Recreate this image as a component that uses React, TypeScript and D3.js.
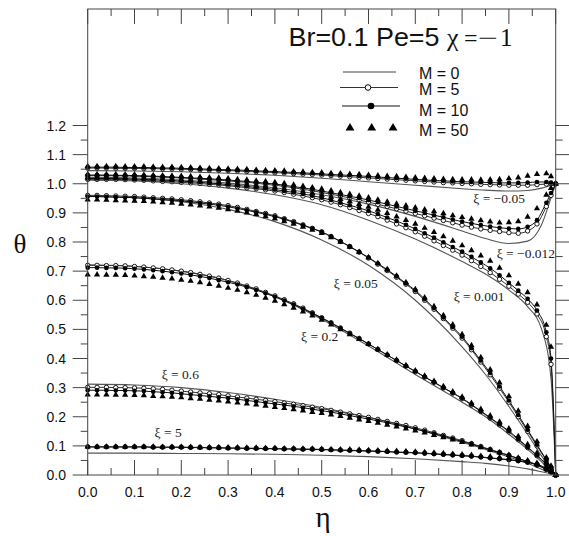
import React from 'react';
import * as d3 from 'd3';

const W = 569;
const H = 536;

// eta grid for marked series
const ETA = [0,0.02,0.04,0.06,0.08,0.1,0.12,0.14,0.16,0.18,0.2,0.22,0.24,0.26,0.28,0.3,0.32,0.34,0.36,0.38,0.4,0.42,0.44,0.46,0.48,0.5,0.52,0.54,0.56,0.58,0.6,0.62,0.64,0.66,0.68,0.7,0.72,0.74,0.76,0.78,0.8,0.82,0.84,0.86,0.88,0.9,0.92,0.94,0.96,0.98,0.99,1];
// eta grid for M = 0 (plain lines)
const ETA_LINE = [0,0.1,0.2,0.3,0.4,0.5,0.6,0.7,0.8,0.85,0.9,0.94,0.97,0.99,1];

// xi = -0.05
const XI_N005_M0 = [1.045,1.044,1.041,1.036,1.029,1.019,1.007,0.995,0.983,0.978,0.975,0.977,0.985,0.995,1.0];
const XI_N005_M5 = [1.054,1.054,1.054,1.053,1.053,1.053,1.052,1.052,1.051,1.051,1.05,1.049,1.048,1.047,1.046,1.045,1.044,1.042,1.041,1.04,1.038,1.037,1.035,1.033,1.032,1.03,1.028,1.026,1.024,1.022,1.02,1.018,1.016,1.014,1.012,1.01,1.008,1.006,1.004,1.003,1.001,1.0,0.998,0.997,0.996,0.995,0.995,0.995,0.997,0.999,1.0,1.0];
const XI_N005_M10 = [1.057,1.057,1.057,1.057,1.056,1.056,1.056,1.055,1.054,1.054,1.053,1.052,1.051,1.05,1.049,1.048,1.047,1.046,1.044,1.043,1.042,1.04,1.039,1.037,1.036,1.034,1.032,1.03,1.029,1.027,1.025,1.023,1.021,1.019,1.017,1.015,1.013,1.011,1.01,1.008,1.007,1.006,1.005,1.004,1.003,1.003,1.003,1.004,1.006,1.006,1.004,1.0];
const XI_N005_M50 = [1.06,1.06,1.06,1.06,1.059,1.059,1.059,1.058,1.057,1.057,1.056,1.055,1.054,1.053,1.052,1.051,1.05,1.049,1.047,1.046,1.045,1.044,1.042,1.041,1.039,1.038,1.036,1.035,1.033,1.032,1.03,1.028,1.026,1.025,1.023,1.021,1.019,1.018,1.016,1.015,1.014,1.014,1.013,1.014,1.015,1.018,1.021,1.027,1.033,1.035,1.025,1.0];

// xi = -0.012
const XI_N0012_M0 = [1.022,1.02,1.013,1.002,0.986,0.962,0.93,0.888,0.838,0.812,0.795,0.803,0.86,0.952,1.0];
const XI_N0012_M5 = [1.028,1.028,1.028,1.027,1.027,1.026,1.025,1.024,1.023,1.021,1.02,1.018,1.016,1.014,1.012,1.01,1.007,1.005,1.002,0.998,0.995,0.991,0.986,0.981,0.976,0.97,0.964,0.958,0.951,0.944,0.937,0.929,0.922,0.914,0.906,0.898,0.89,0.882,0.874,0.866,0.858,0.851,0.845,0.84,0.836,0.832,0.83,0.838,0.862,0.922,0.96,1.0];
const XI_N0012_M10 = [1.03,1.03,1.03,1.029,1.029,1.028,1.027,1.026,1.025,1.023,1.022,1.02,1.019,1.017,1.015,1.013,1.01,1.008,1.005,1.002,0.999,0.995,0.99,0.986,0.981,0.975,0.969,0.963,0.957,0.951,0.944,0.937,0.93,0.922,0.915,0.907,0.9,0.892,0.885,0.877,0.87,0.864,0.858,0.853,0.849,0.846,0.845,0.852,0.875,0.935,0.968,1.0];
const XI_N0012_M50 = [1.032,1.032,1.032,1.032,1.031,1.031,1.03,1.029,1.028,1.027,1.026,1.025,1.023,1.021,1.02,1.018,1.015,1.013,1.01,1.008,1.005,1.001,0.996,0.992,0.987,0.982,0.976,0.97,0.964,0.958,0.952,0.945,0.938,0.931,0.925,0.918,0.911,0.905,0.898,0.891,0.885,0.879,0.874,0.87,0.866,0.867,0.871,0.886,0.915,0.962,0.985,1.0];

// xi = 0.001
const XI_0001_M0 = [1.012,1.01,1.0,0.985,0.962,0.928,0.875,0.81,0.733,0.69,0.635,0.578,0.5,0.33,0];
const XI_0001_M5 = [1.015,1.015,1.015,1.015,1.014,1.013,1.012,1.01,1.008,1.007,1.005,1.003,1.001,0.998,0.996,0.993,0.99,0.986,0.983,0.979,0.975,0.97,0.964,0.958,0.952,0.945,0.937,0.928,0.918,0.908,0.898,0.887,0.875,0.862,0.849,0.835,0.82,0.804,0.788,0.772,0.755,0.736,0.716,0.695,0.672,0.648,0.621,0.593,0.553,0.475,0.38,0];
const XI_0001_M10 = [1.018,1.018,1.018,1.018,1.017,1.016,1.015,1.014,1.012,1.011,1.009,1.007,1.005,1.002,1.0,0.997,0.994,0.991,0.987,0.984,0.98,0.975,0.97,0.965,0.959,0.952,0.944,0.935,0.926,0.917,0.907,0.896,0.884,0.872,0.859,0.845,0.83,0.815,0.799,0.783,0.767,0.749,0.73,0.71,0.686,0.66,0.633,0.605,0.565,0.49,0.4,0];
const XI_0001_M50 = [1.022,1.022,1.022,1.022,1.021,1.02,1.019,1.018,1.017,1.015,1.014,1.012,1.01,1.008,1.005,1.003,1.0,0.997,0.994,0.991,0.987,0.983,0.978,0.973,0.968,0.962,0.955,0.947,0.939,0.93,0.92,0.91,0.899,0.887,0.875,0.862,0.848,0.834,0.819,0.804,0.788,0.771,0.753,0.735,0.711,0.685,0.656,0.627,0.585,0.515,0.44,0];

// xi = 0.05
const XI_005_M0 = [0.957,0.952,0.938,0.912,0.87,0.807,0.72,0.6,0.44,0.345,0.235,0.14,0.065,0.02,0];
const XI_005_M5 = [0.96,0.96,0.959,0.958,0.957,0.956,0.954,0.952,0.95,0.948,0.945,0.942,0.938,0.934,0.93,0.925,0.919,0.912,0.905,0.898,0.89,0.88,0.87,0.859,0.847,0.835,0.819,0.802,0.784,0.765,0.745,0.724,0.702,0.679,0.655,0.63,0.6,0.569,0.537,0.504,0.47,0.43,0.388,0.344,0.298,0.25,0.2,0.15,0.1,0.05,0.025,0];
const XI_005_M10 = [0.956,0.956,0.955,0.954,0.953,0.952,0.95,0.948,0.946,0.944,0.941,0.938,0.934,0.93,0.926,0.921,0.915,0.909,0.902,0.895,0.887,0.878,0.868,0.857,0.846,0.834,0.819,0.802,0.785,0.766,0.747,0.726,0.705,0.682,0.658,0.634,0.604,0.573,0.541,0.508,0.475,0.435,0.393,0.35,0.304,0.256,0.206,0.155,0.104,0.052,0.026,0];
const XI_005_M50 = [0.945,0.945,0.944,0.943,0.942,0.941,0.94,0.938,0.936,0.934,0.931,0.928,0.925,0.921,0.917,0.912,0.907,0.901,0.895,0.888,0.88,0.871,0.862,0.852,0.841,0.83,0.816,0.8,0.783,0.765,0.747,0.727,0.706,0.684,0.661,0.637,0.609,0.579,0.548,0.516,0.483,0.445,0.404,0.362,0.317,0.27,0.22,0.168,0.115,0.06,0.031,0];

// xi = 0.2
const XI_02_M0 = [0.722,0.717,0.7,0.668,0.612,0.535,0.443,0.345,0.25,0.2,0.14,0.088,0.045,0.014,0];
const XI_02_M5 = [0.72,0.72,0.719,0.719,0.718,0.716,0.714,0.711,0.708,0.704,0.7,0.695,0.689,0.683,0.676,0.668,0.659,0.649,0.639,0.627,0.615,0.602,0.588,0.573,0.557,0.54,0.523,0.505,0.487,0.469,0.45,0.431,0.412,0.393,0.374,0.355,0.336,0.318,0.299,0.281,0.262,0.24,0.218,0.195,0.172,0.148,0.121,0.094,0.066,0.035,0.018,0];
const XI_02_M10 = [0.712,0.712,0.711,0.711,0.71,0.708,0.706,0.703,0.7,0.696,0.692,0.687,0.682,0.676,0.669,0.662,0.654,0.645,0.635,0.624,0.612,0.599,0.585,0.571,0.555,0.539,0.522,0.504,0.486,0.468,0.45,0.431,0.412,0.393,0.374,0.356,0.337,0.319,0.3,0.282,0.264,0.242,0.22,0.197,0.174,0.151,0.124,0.096,0.068,0.037,0.019,0];
const XI_02_M50 = [0.688,0.688,0.687,0.687,0.686,0.684,0.682,0.68,0.677,0.674,0.67,0.666,0.661,0.655,0.649,0.642,0.635,0.627,0.618,0.608,0.598,0.586,0.574,0.561,0.547,0.532,0.516,0.5,0.483,0.466,0.449,0.431,0.413,0.395,0.376,0.358,0.34,0.322,0.304,0.286,0.268,0.247,0.226,0.204,0.182,0.159,0.133,0.105,0.076,0.043,0.023,0];

// xi = 0.6
const XI_06_M0 = [0.312,0.309,0.3,0.283,0.26,0.232,0.198,0.158,0.112,0.088,0.062,0.04,0.02,0.007,0];
const XI_06_M5 = [0.301,0.301,0.301,0.3,0.3,0.299,0.298,0.296,0.294,0.291,0.288,0.285,0.282,0.279,0.276,0.272,0.268,0.264,0.26,0.256,0.252,0.247,0.243,0.238,0.233,0.228,0.222,0.216,0.21,0.204,0.198,0.191,0.184,0.177,0.17,0.162,0.154,0.145,0.136,0.127,0.118,0.108,0.098,0.088,0.078,0.068,0.057,0.046,0.034,0.019,0.01,0];
const XI_06_M10 = [0.291,0.291,0.291,0.29,0.29,0.289,0.288,0.286,0.284,0.282,0.279,0.276,0.273,0.27,0.267,0.264,0.26,0.256,0.252,0.248,0.244,0.24,0.236,0.231,0.226,0.221,0.216,0.21,0.204,0.198,0.192,0.186,0.179,0.172,0.165,0.158,0.15,0.142,0.133,0.124,0.115,0.106,0.096,0.086,0.076,0.067,0.056,0.046,0.034,0.019,0.01,0];
const XI_06_M50 = [0.276,0.276,0.276,0.275,0.275,0.274,0.273,0.271,0.27,0.268,0.266,0.263,0.261,0.258,0.255,0.252,0.248,0.245,0.241,0.237,0.233,0.229,0.225,0.221,0.216,0.212,0.207,0.202,0.196,0.19,0.185,0.179,0.172,0.166,0.159,0.152,0.145,0.137,0.129,0.121,0.113,0.104,0.095,0.086,0.077,0.068,0.059,0.049,0.037,0.021,0.012,0];

// xi = 5
const XI_5_M0 = [0.075,0.075,0.074,0.073,0.071,0.068,0.063,0.056,0.046,0.04,0.031,0.021,0.011,0.004,0];
const XI_5_M5 = [0.097,0.097,0.097,0.097,0.097,0.097,0.097,0.096,0.096,0.096,0.096,0.095,0.095,0.094,0.094,0.093,0.093,0.092,0.092,0.091,0.091,0.09,0.09,0.089,0.089,0.088,0.087,0.086,0.085,0.084,0.083,0.082,0.081,0.079,0.078,0.077,0.075,0.073,0.071,0.069,0.067,0.065,0.062,0.059,0.056,0.053,0.049,0.044,0.037,0.023,0.013,0];
const XI_5_M10 = [0.096,0.096,0.096,0.096,0.096,0.096,0.096,0.095,0.095,0.095,0.095,0.094,0.094,0.093,0.093,0.092,0.092,0.091,0.091,0.09,0.09,0.089,0.089,0.088,0.088,0.087,0.086,0.085,0.084,0.083,0.082,0.081,0.08,0.078,0.077,0.076,0.074,0.072,0.07,0.068,0.066,0.064,0.061,0.058,0.055,0.052,0.048,0.043,0.036,0.022,0.012,0];
const XI_5_M50 = [0.097,0.097,0.097,0.097,0.097,0.097,0.097,0.097,0.096,0.096,0.096,0.096,0.095,0.095,0.095,0.094,0.094,0.093,0.093,0.092,0.092,0.091,0.091,0.09,0.09,0.089,0.088,0.087,0.087,0.086,0.085,0.084,0.083,0.082,0.081,0.079,0.078,0.076,0.074,0.072,0.07,0.068,0.065,0.063,0.06,0.057,0.053,0.048,0.041,0.027,0.015,0];

const XI_LABELS = ['ξ = −0.05', 'ξ = −0.012', 'ξ = 0.001', 'ξ = 0.05', 'ξ = 0.2', 'ξ = 0.6', 'ξ = 5'];
const XI_LABEL_AT = [[0.824, 0.934], [0.874, 0.745], [0.782, 0.597], [0.526, 0.642], [0.456, 0.46], [0.158, 0.33], [0.143, 0.13]];

const LEGEND_LABELS = ['M = 0', 'M = 5', 'M = 10', 'M = 50'];

const GROUPS = [
  { m0: XI_N005_M0, m5: XI_N005_M5, m10: XI_N005_M10, m50: XI_N005_M50 },
  { m0: XI_N0012_M0, m5: XI_N0012_M5, m10: XI_N0012_M10, m50: XI_N0012_M50 },
  { m0: XI_0001_M0, m5: XI_0001_M5, m10: XI_0001_M10, m50: XI_0001_M50 },
  { m0: XI_005_M0, m5: XI_005_M5, m10: XI_005_M10, m50: XI_005_M50 },
  { m0: XI_02_M0, m5: XI_02_M5, m10: XI_02_M10, m50: XI_02_M50 },
  { m0: XI_06_M0, m5: XI_06_M5, m10: XI_06_M10, m50: XI_06_M50 },
  { m0: XI_5_M0, m5: XI_5_M5, m10: XI_5_M10, m50: XI_5_M50 },
];

const zip = (xs: number[], ys: number[]) => ys.map((v, i) => [xs[i], v] as [number, number]).filter(p => p[0] !== undefined);

export default function App() {
  const x = d3.scaleLinear().domain([0, 1]).range([87.7, 555.7]);
  const y = d3.scaleLinear().domain([0, 1.6]).range([475, 9]);
  const line = d3.line<[number, number]>().x(d => x(d[0])).y(d => y(d[1])).curve(d3.curveMonotoneX);
  const tri = d3.symbol().type(d3.symbolTriangle).size(17)() as string;
  const triLeg = d3.symbol().type(d3.symbolTriangle).size(34)() as string;

  const xMajor = d3.range(0, 11).map(i => i / 10);
  const xMinor = d3.range(0, 10).map(i => i / 10 + 0.05);
  const yMajor = d3.range(0, 13).map(i => i / 10);
  const yMinor = d3.range(0, 12).map(i => i / 10 + 0.05);
  const fmt = d3.format('.1f');
  const axisColor = '#444';
  const sans = 'Liberation Sans, Arial, sans-serif';
  const serif = 'Liberation Serif, Times New Roman, serif';
  const [x0, x1] = x.range();
  const yb = y(0), yt = y(1.6);

  return (
    <svg width={W} height={H} style={{ position: 'absolute', left: 0, top: 0, background: '#fff' }}>
      <rect x={0} y={0} width={W} height={H} fill="#fff" />
      {/* curves */}
      <g fill="none">
        {GROUPS.map((g, gi) => (
          <g key={gi}>
            <path d={line(zip(ETA_LINE, g.m0)) || ''} stroke="#555" strokeWidth={1.1} />
            <path d={line(zip(ETA, g.m5)) || ''} stroke="#333" strokeWidth={1} />
            <path d={line(zip(ETA, g.m10)) || ''} stroke="#111" strokeWidth={1} />
          </g>
        ))}
      </g>
      {GROUPS.map((g, gi) => (
        <g key={'mk' + gi}>
          {zip(ETA, g.m5).map((p, i) => (
            <circle key={'a' + i} cx={x(p[0])} cy={y(p[1])} r={2.2} fill="#fff" stroke="#000" strokeWidth={0.9} />
          ))}
          {zip(ETA, g.m10).map((p, i) => (
            <circle key={'b' + i} cx={x(p[0])} cy={y(p[1])} r={2.3} fill="#000" />
          ))}
          {zip(ETA, g.m50).map((p, i) => (
            <path key={'c' + i} d={tri} transform={`translate(${x(p[0])},${y(p[1])})`} fill="#000" />
          ))}
        </g>
      ))}

      {/* frame */}
      <rect x={x0} y={yt} width={x1 - x0} height={yb - yt} fill="none" stroke={axisColor} strokeWidth={1} />
      {/* x ticks bottom and top (inward) */}
      {xMajor.map(v => (
        <g key={'xm' + v}>
          <line x1={x(v)} x2={x(v)} y1={yb} y2={yb - 15} stroke={axisColor} />
          <line x1={x(v)} x2={x(v)} y1={yt} y2={yt + 15} stroke={axisColor} />
          <text x={x(v)} y={497} textAnchor="middle" fontFamily={sans} fontSize={14} fill="#111">{fmt(v)}</text>
        </g>
      ))}
      {xMinor.map(v => (
        <g key={'xn' + v}>
          <line x1={x(v)} x2={x(v)} y1={yb} y2={yb - 7} stroke={axisColor} />
          <line x1={x(v)} x2={x(v)} y1={yt} y2={yt + 7} stroke={axisColor} />
        </g>
      ))}
      {/* y ticks left and right (outward) */}
      {yMajor.map(v => (
        <g key={'ym' + v}>
          <line x1={x0} x2={x0 - 15} y1={y(v)} y2={y(v)} stroke={axisColor} />
          <line x1={x1} x2={x1 + 15} y1={y(v)} y2={y(v)} stroke={axisColor} />
          <text x={66} y={y(v) + 5} textAnchor="end" fontFamily={sans} fontSize={14} fill="#111">{fmt(v)}</text>
        </g>
      ))}
      {yMinor.map(v => (
        <g key={'yn' + v}>
          <line x1={x0} x2={x0 - 7} y1={y(v)} y2={y(v)} stroke={axisColor} />
          <line x1={x1} x2={x1 + 7} y1={y(v)} y2={y(v)} stroke={axisColor} />
        </g>
      ))}

      {/* axis titles */}
      <text x={20} y={253} textAnchor="middle" fontFamily={serif} fontSize={27} fill="#111">θ</text>
      <text x={323} y={527} textAnchor="middle" fontFamily={serif} fontSize={29} fill="#111">η</text>

      {/* xi labels */}
      {XI_LABELS.map((t, i) => (
        <text key={t} x={x(XI_LABEL_AT[i][0])} y={y(XI_LABEL_AT[i][1])} fontFamily={serif} fontSize={13.5} fill="#222">{t}</text>
      ))}

      {/* title */}
      <text x={288.5} y={46} fontFamily={sans} fontSize={25} fill="#111" textLength={151} lengthAdjust="spacingAndGlyphs">Br=0.1 Pe=5</text>
      <text x={447} y={46} fontFamily={serif} fontSize={26} fill="#111">χ</text>
      <text x={464} y={46} fontFamily={serif} fontSize={24} fill="#111">=</text>
      <text x={478} y={46} fontFamily={serif} fontSize={24} fill="#111" textLength={20} lengthAdjust="spacingAndGlyphs">−</text>
      <text x={500} y={46} fontFamily={serif} fontSize={25} fill="#111">1</text>

      {/* legend */}
      <g>
        <line x1={343} x2={396} y1={72} y2={72} stroke="#444" />
        <line x1={340} x2={398} y1={87.5} y2={87.5} stroke="#333" />
        <circle cx={368} cy={87.5} r={2.8} fill="#fff" stroke="#000" strokeWidth={1} />
        <line x1={342} x2={400} y1={106} y2={106} stroke="#111" />
        <circle cx={371} cy={106} r={3.3} fill="#000" />
        {[350, 371.7, 393].map(cx => (
          <path key={cx} d={triLeg} transform={`translate(${cx},128)`} fill="#000" />
        ))}
        {LEGEND_LABELS.map((t, i) => (
          <text key={t} x={419} y={[78.5, 94.5, 115.5, 135.5][i]} fontFamily={sans} fontSize={16} fill="#111">{t}</text>
        ))}
      </g>
    </svg>
  );
}
